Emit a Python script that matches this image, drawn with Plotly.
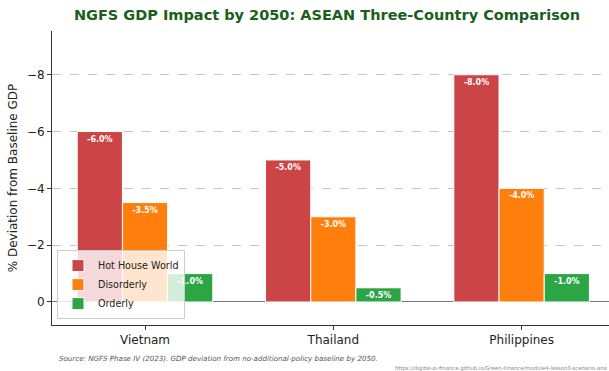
import plotly.graph_objects as go

countries = ["Vietnam", "Thailand", "Philippines"]
scenarios = ["Hot House World", "Disorderly", "Orderly"]
hot_house = [-6.0, -5.0, -8.0]
disorderly = [-3.5, -3.0, -4.0]
orderly = [-1.0, -0.5, -1.0]
colors = ["#cb4446", "#ff7f0e", "#2ca644"]
yticks = [0, -2, -4, -6, -8]
ytick_text = ["0", "\u22122", "\u22124", "\u22126", "\u22128"]

series = [hot_house, disorderly, orderly]
offsets = [-0.24, 0.0, 0.24]
width = 0.24
FONT = "DejaVu Sans"

fig = go.Figure()
for name, vals, col, off in zip(scenarios, series, colors, offsets):
    fig.add_trace(go.Bar(
        x=[i + off for i in range(len(countries))],
        y=vals,
        width=width,
        name=name,
        marker=dict(color=col, line=dict(color="white", width=1)),
        text=[f"{v:.1f}%" for v in vals],
        textposition="inside",
        insidetextanchor="end",
        textangle=0,
        constraintext="none",
        textfont=dict(family=FONT, size=8, color="white", weight="bold"),
        cliponaxis=False,
    ))

fig.update_layout(
    width=609, height=371,
    margin=dict(l=52, r=0, t=31, b=46),
    paper_bgcolor="white", plot_bgcolor="white",
    font=dict(family=FONT, color="#222"),
    barmode="overlay",
    showlegend=True,
    title=dict(
        text="<b>NGFS GDP Impact by 2050: ASEAN Three-Country Comparison</b>",
        font=dict(family=FONT, size=14.5, color="#1b5e20"),
        x=327 / 609, xanchor="center", xref="container",
        y=1 - 15 / 371, yanchor="middle",
    ),
    legend=dict(
        x=0.009, y=0.02, xanchor="left", yanchor="bottom",
        bgcolor="rgba(255,255,255,0.8)", bordercolor="#cccccc", borderwidth=1,
        font=dict(family=FONT, size=9.6, color="#222"),
        tracegroupgap=0, itemwidth=30,
    ),
    xaxis=dict(
        range=[-0.494, 2.464],
        tickmode="array", tickvals=[0, 1, 2], ticktext=countries,
        ticks="outside", ticklen=4, tickcolor="#333",
        tickfont=dict(family=FONT, size=12, color="#222"),
        showline=True, linecolor="#333", linewidth=1,
        showgrid=False, zeroline=False,
    ),
    yaxis=dict(
        range=[0.81, -9.54],
        tickmode="array", tickvals=yticks, ticktext=ytick_text,
        ticks="outside", ticklen=4, tickcolor="#333",
        tickfont=dict(family=FONT, size=12, color="#222"),
        showline=True, linecolor="#333", linewidth=1,
        showgrid=True, gridcolor="#c4c4c4", griddash="dash", gridwidth=0.8,
        zeroline=True, zerolinecolor="#777777", zerolinewidth=1,
        title=dict(text="% Deviation from Baseline GDP",
                   font=dict(family=FONT, size=12, color="#222"), standoff=6),
    ),
)

fig.add_annotation(
    text="<i>Source: NGFS Phase IV (2023). GDP deviation from no-additional-policy baseline by 2050.</i>",
    xref="paper", yref="paper", x=(57 - 52) / 557, y=-(358 - 325) / 294,
    xanchor="left", yanchor="middle", showarrow=False,
    font=dict(family=FONT, size=7.1, color="#555"),
)
fig.add_annotation(
    text="https://digital-ai-finance.github.io/Green-Finance/module4-lesson3-scenario-ana",
    xref="paper", yref="paper", x=1.0, y=-(368 - 325) / 294,
    xanchor="right", yanchor="middle", showarrow=False,
    font=dict(family=FONT, size=5.3, color="#888"),
)

fig.write_html("out.html")
